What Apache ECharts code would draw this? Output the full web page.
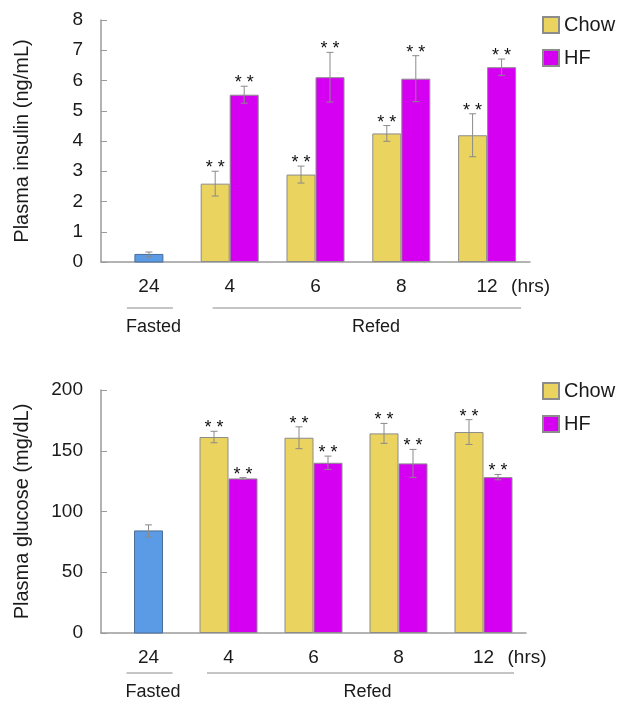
<!DOCTYPE html>
<html>
<head>
<meta charset="utf-8">
<script src="https://cdn.jsdelivr.net/npm/echarts@6/dist/echarts.min.js"></script>
<style>
  html, body { margin: 0; padding: 0; background: #fff; }
  #main { width: 617px; height: 702px; }
</style>
</head>
<body>
<div id="main"></div>
<script>
/** x categories (hours) */
var hours = ['24', '4', '6', '8', '12']

/** plasma insulin (ng/mL) */
var insulinFasted = [0.25]
var insulinFastedErr = [0.08]
var insulinChow = ['-', 2.59, 2.89, 4.25, 4.19]
var insulinChowErr = ['-', 0.41, 0.28, 0.26, 0.71]
var insulinHF = ['-', 5.53, 6.11, 6.06, 6.44]
var insulinHFErr = ['-', 0.28, 0.82, 0.76, 0.27]

/** plasma glucose (mg/dL) */
var glucoseFasted = [84]
var glucoseFastedErr = [5]
var glucoseChow = ['-', 161.3, 160.7, 164.3, 165.4]
var glucoseChowErr = ['-', 4.7, 9, 8.2, 10.2]
var glucoseHF = ['-', 127.2, 140.1, 139.6, 128.3]
var glucoseHFErr = ['-', 0.7, 5.5, 11.5, 2.2]

var FONT = 'Liberation Sans, Arial, sans-serif'
var COLOR_CHOW = '#ebd35f'
var COLOR_HF = '#d500f2'
var COLOR_FASTED = '#5b9be6'
var AXIS_COLOR = '#9a9a9a'
var BAR_W = 29

// make [cat, value, err] rows
function rows (vals, errs) {
    var out = []
    for (var i = 0; i < vals.length; i++) {
        if (vals[i] === '-') continue
        out.push([i, vals[i], errs[i]])
    }
    return out
}

// error bar + stars, drawn around the bar at a pixel offset from the category center
function errRender (offset, stars) {
    return function (params, api) {
        var cat = api.value(0)
        var v = api.value(1)
        var e = api.value(2)
        var hi = api.coord([cat, v + e])
        var lo = api.coord([cat, v - e])
        var x = hi[0] + offset
        var ch = []
        ch.push({type: 'line', shape: {x1: x, y1: hi[1], x2: x, y2: lo[1]}, style: {stroke: '#8a8a8a', lineWidth: 1}})
        ch.push({type: 'line', shape: {x1: x - 3.5, y1: hi[1], x2: x + 3.5, y2: hi[1]}, style: {stroke: '#8a8a8a', lineWidth: 1}})
        ch.push({type: 'line', shape: {x1: x - 3.5, y1: lo[1], x2: x + 3.5, y2: lo[1]}, style: {stroke: '#8a8a8a', lineWidth: 1}})
        if (stars) {
            ch.push({type: 'text', style: {text: '* *', x: x, y: hi[1] - 3, align: 'center', verticalAlign: 'middle', font: '18px ' + FONT, fill: '#111'}})
        }
        return {type: 'group', children: ch}
    }
}

// the lone fasted bar, shifted a little right of its category center
function fastedRender (offset) {
    return function (params, api) {
        var cat = api.value(0)
        var top = api.coord([cat, api.value(1)])
        var base = api.coord([cat, 0])
        var w = 28
        return {
            type: 'rect',
            shape: {x: top[0] + offset - w / 2, y: top[1], width: w, height: base[1] - top[1]},
            style: {fill: COLOR_FASTED, stroke: '#4a6e98', lineWidth: 1}
        }
    }
}

function xAxisOf (grid) {
    return {
        type: 'category',
        gridIndex: grid,
        data: hours,
        axisLine: {lineStyle: {color: AXIS_COLOR, width: 1.5}},
        axisTick: {inside: true, length: 6, lineStyle: {color: AXIS_COLOR}},
        axisLabel: {
            margin: 15,
            fontSize: 19,
            fontFamily: FONT,
            color: '#1a1a1a',
            formatter: function (v) { return v === '24' ? '{f|24}' : v },
            rich: {f: {padding: [0, 0, 0, 10], fontSize: 19, fontFamily: FONT, color: '#1a1a1a'}}
        }
    }
}

function yAxisOf (grid, max, interval, name) {
    return {
        type: 'value',
        gridIndex: grid,
        min: 0,
        max: max,
        interval: interval,
        name: name,
        nameLocation: 'middle',
        nameGap: 69,
        nameTextStyle: {fontSize: 20, fontFamily: FONT, color: '#1a1a1a'},
        splitLine: {show: false},
        axisLine: {show: true, lineStyle: {color: AXIS_COLOR, width: 1.5}},
        axisTick: {show: true, inside: true, length: 6, lineStyle: {color: AXIS_COLOR}},
        axisLabel: {margin: 18, fontSize: 19, fontFamily: FONT, color: '#1a1a1a'}
    }
}

function barSeries (name, data, color, xi, yi) {
    return {
        name: name,
        type: 'bar',
        xAxisIndex: xi,
        yAxisIndex: yi,
        data: data,
        barWidth: BAR_W,
        barGap: '0%',
        itemStyle: {color: color, borderColor: '#8c8c8c', borderWidth: 1}
    }
}

function customSeries (data, render, xi, yi, z) {
    return {
        type: 'custom',
        xAxisIndex: xi,
        yAxisIndex: yi,
        data: data,
        renderItem: render,
        encode: {x: 0, y: 1},
        z: z
    }
}

function legendAt (top) {
    return {
        data: ['Chow', 'HF'],
        orient: 'vertical',
        left: 542,
        top: top,
        padding: 0,
        itemWidth: 16,
        itemHeight: 16,
        itemGap: 13,
        icon: 'rect',
        selectedMode: false,
        textStyle: {fontSize: 20, fontFamily: FONT, color: '#1a1a1a'}
    }
}

var myChart = echarts.init(document.getElementById('main'))

var option = {
    animation: false,
    backgroundColor: '#fff',
    grid: [
        {left: 101, top: 20, width: 429, height: 242},
        {left: 101, top: 390, width: 425, height: 243}
    ],
    legend: [legendAt(15), legendAt(381)],
    xAxis: [xAxisOf(0), xAxisOf(1)],
    yAxis: [
        yAxisOf(0, 8, 1, 'Plasma insulin (ng/mL)'),
        yAxisOf(1, 200, 50, 'Plasma glucose (mg/dL)')
    ],
    series: [
        customSeries(rows(insulinFasted, insulinFastedErr), fastedRender(5), 0, 0, 2),
        barSeries('Chow', insulinChow, COLOR_CHOW, 0, 0),
        barSeries('HF', insulinHF, COLOR_HF, 0, 0),
        customSeries(rows(insulinFasted, insulinFastedErr), errRender(5, false), 0, 0, 5),
        customSeries(rows(insulinChow, insulinChowErr), errRender(-BAR_W / 2, true), 0, 0, 5),
        customSeries(rows(insulinHF, insulinHFErr), errRender(BAR_W / 2, true), 0, 0, 5),

        customSeries(rows(glucoseFasted, glucoseFastedErr), fastedRender(5), 1, 1, 2),
        barSeries('Chow', glucoseChow, COLOR_CHOW, 1, 1),
        barSeries('HF', glucoseHF, COLOR_HF, 1, 1),
        customSeries(rows(glucoseFasted, glucoseFastedErr), errRender(5, false), 1, 1, 5),
        customSeries(rows(glucoseChow, glucoseChowErr), errRender(-BAR_W / 2, true), 1, 1, 5),
        customSeries(rows(glucoseHF, glucoseHFErr), errRender(BAR_W / 2, true), 1, 1, 5)
    ]
}
myChart.setOption(option)

// Fasted / Refed brackets and the (hrs) unit, placed from the axes
function groupMarks (grid, lineDy, textDy, refedL, refedR, refedTextDx) {
    var px = function (cat, v) { return myChart.convertToPixel({gridIndex: grid}, [cat, v]) }
    var c0 = px(0, 0)
    var c1 = px(1, 0)
    var c4 = px(4, 0)
    var y0 = c0[1]
    var txt = {fontSize: 18, fontFamily: FONT, fill: '#1a1a1a', align: 'center', verticalAlign: 'middle'}
    return [
        {type: 'line', shape: {x1: c0[0] - 17, y1: y0 + lineDy, x2: c0[0] + 29, y2: y0 + lineDy}, style: {stroke: '#8a8a8a', lineWidth: 1}},
        {type: 'text', style: Object.assign({text: 'Fasted', x: c0[0] + 9.5, y: y0 + textDy}, txt)},
        {type: 'line', shape: {x1: c1[0] + refedL, y1: y0 + lineDy, x2: c4[0] + refedR, y2: y0 + lineDy}, style: {stroke: '#8a8a8a', lineWidth: 1}},
        {type: 'text', style: Object.assign({text: 'Refed', x: (c1[0] + refedL + c4[0] + refedR) / 2 + refedTextDx, y: y0 + textDy}, txt)},
        {type: 'text', style: {text: '(hrs)', x: c4[0] + 24, y: y0 + 25, fontSize: 19, fontFamily: FONT, fill: '#1a1a1a', align: 'left', verticalAlign: 'middle'}}
    ]
}

myChart.setOption({
    graphic: groupMarks(0, 46, 65, -17, 34, 9).concat(groupMarks(1, 40, 59, -21.5, 30.5, 7))
})
window.onresize = myChart.resize
</script>
</body>
</html>
